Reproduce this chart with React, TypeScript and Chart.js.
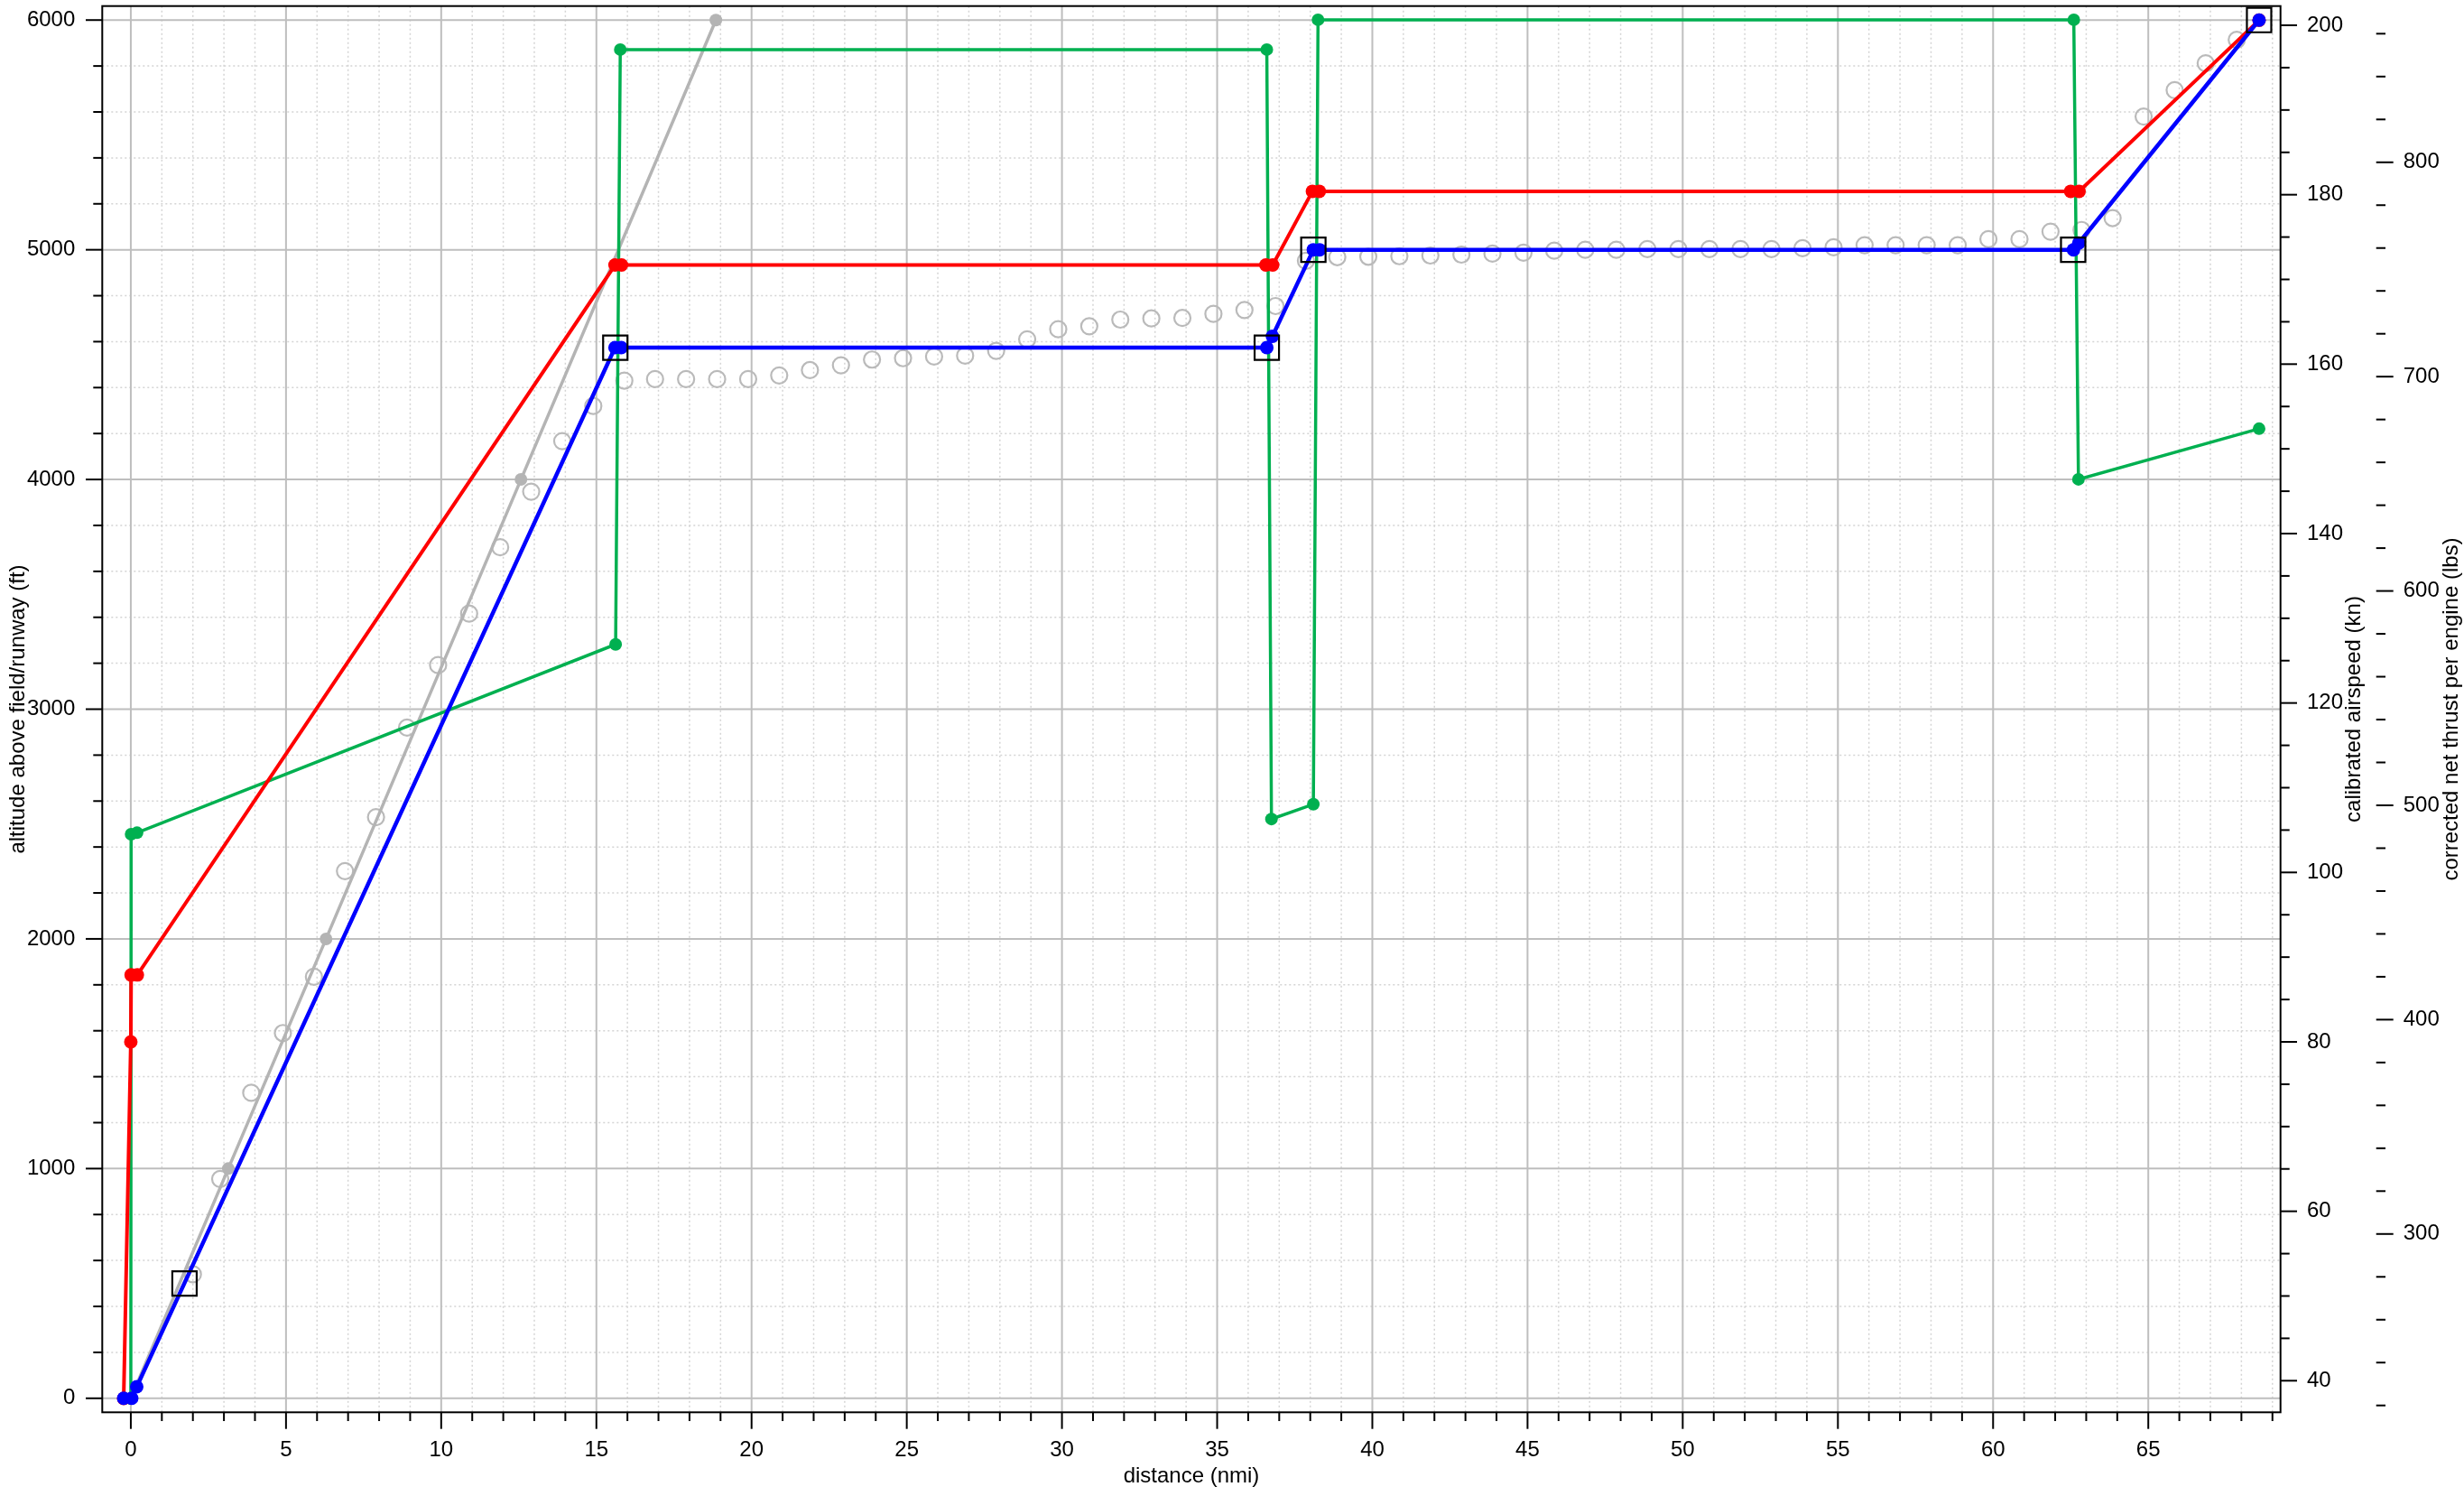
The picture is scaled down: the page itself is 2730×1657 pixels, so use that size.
import React, { useEffect, useRef } from 'react';
import { Chart, registerables } from 'chart.js';

Chart.register(...registerables);

const W = 2730;
const H = 1657;

// ---------- data ----------
// planned altitude profile (ft) – blue
const planDistance = [-0.23, 0.03, 0.19, 15.6, 15.8, 36.6, 36.78, 38.1, 38.3, 62.59, 62.76, 68.57];
const planAltitude = [0, 0, 50, 4574, 4574, 4574, 4623, 5000, 5000, 5000, 5029, 6000];

// calibrated airspeed (kn) – red
const speedDistance = [-0.23, 0.0, 0.01, 0.21, 15.6, 15.81, 36.57, 36.79, 38.07, 38.29, 62.5, 62.77, 68.57];
const speedKnots = [37.9, 80.0, 87.9, 87.9, 171.7, 171.7, 171.7, 171.7, 180.4, 180.4, 180.4, 180.4, 200.6];

// corrected net thrust per engine (lbs) – green
const thrustDistance = [0.0, 0.01, 0.2, 15.62, 15.77, 36.6, 36.75, 38.1, 38.25, 62.6, 62.75, 68.57];
const thrustLbs = [223.2, 486.5, 487.2, 575.1, 852.6, 852.6, 493.6, 500.5, 866.5, 866.5, 652.1, 675.7];

// reference glide line (ft) – grey
const glideDistance = [0, 3.14, 6.29, 12.57, 18.85];
const glideAltitude = [0, 1000, 2000, 4000, 6000];

// altitude constraints (ft) – black squares
const constraintDistance = [1.73, 15.61, 36.6, 38.1, 62.58, 68.57];
const constraintAltitude = [500, 4574, 4574, 5000, 5000, 6000];

// observed track (ft) – open grey circles
const obsDistance = [
  2.0, 2.88, 3.88, 4.9, 5.9, 6.9, 7.9, 8.9, 9.9, 10.9, 11.9, 12.9, 13.9, 14.9, 15.9,
  16.89, 17.89, 18.89, 19.89, 20.89, 21.88, 22.88, 23.88, 24.88, 25.88, 26.88, 27.88, 28.88,
  29.88, 30.88, 31.88, 32.88, 33.88, 34.88, 35.88, 36.88,
  37.86, 38.87, 39.87, 40.87, 41.87, 42.87, 43.87, 44.87, 45.86, 46.86, 47.86, 48.86, 49.86,
  50.86, 51.86, 52.86, 53.86, 54.86, 55.86, 56.86, 57.86, 58.86, 59.85, 60.85, 61.85, 62.85,
  63.85, 64.85, 65.85, 66.85, 67.85,
];
const obsAltitude = [
  540, 955, 1330, 1590, 1835, 2295, 2530, 2920, 3192, 3416, 3705, 3947, 4167, 4320, 4430,
  4437, 4437, 4437, 4437, 4453, 4476, 4497, 4522, 4528, 4535, 4539, 4560, 4610,
  4654, 4667, 4696, 4701, 4703, 4721, 4738, 4755,
  4952, 4968, 4970, 4972, 4975, 4979, 4983, 4987, 4996, 5000, 5000, 5003, 5003,
  5003, 5003, 5003, 5007, 5011, 5020, 5020, 5020, 5020, 5046, 5046, 5079, 5086,
  5138, 5580, 5695, 5812, 5914,
];

// axes
const distanceTicks = [0, 5, 10, 15, 20, 25, 30, 35, 40, 45, 50, 55, 60, 65];
const altitudeTicks = [0, 1000, 2000, 3000, 4000, 5000, 6000];
const airspeedTicks = [40, 60, 80, 100, 120, 140, 160, 180, 200];
const thrustTicks = [300, 400, 500, 600, 700, 800];
const distanceRange = [-0.92, 69.26];
const altitudeRange = [-61, 6061];
const airspeedRange = [36.27, 202.27];
const thrustRange = [216.8, 872.9];

const FONT_FAMILY = "'Liberation Sans', Arial, Helvetica, sans-serif";
const font = { family: FONT_FAMILY, size: 24 };

const pts = (xs: number[], ys: number[]) => xs.map((x, i) => ({ x, y: ys[i] }));

const range = (start: number, end: number, step: number) => {
  const out: number[] = [];
  const s = Math.ceil(start / step - 1e-9) * step;
  for (let v = s; v <= end + 1e-9; v += step) out.push(Math.round(v * 1000) / 1000);
  return out;
};

const decorPlugin = {
  id: 'decor',
  beforeDatasetsDraw(chart: any) {
    const { ctx, chartArea: a, scales } = chart;
    const sx = scales.x;
    const sy = scales.y;
    ctx.save();
    ctx.beginPath();
    ctx.rect(a.left, a.top, a.right - a.left, a.bottom - a.top);
    ctx.clip();
    const vline = (p: number) => { ctx.beginPath(); ctx.moveTo(p, a.top); ctx.lineTo(p, a.bottom); ctx.stroke(); };
    const hline = (p: number) => { ctx.beginPath(); ctx.moveTo(a.left, p); ctx.lineTo(a.right, p); ctx.stroke(); };
    // minor dotted grid
    ctx.strokeStyle = '#d4d4d4';
    ctx.lineWidth = 1.5;
    ctx.setLineDash([2, 3]);
    range(sx.min, sx.max, 1).forEach((v) => { if (v % 5 !== 0) vline(sx.getPixelForValue(v)); });
    range(sy.min, sy.max, 200).forEach((v) => { if (v % 1000 !== 0) hline(sy.getPixelForValue(v)); });
    // major solid grid
    ctx.setLineDash([]);
    ctx.strokeStyle = '#bebebe';
    ctx.lineWidth = 2;
    distanceTicks.forEach((v) => vline(sx.getPixelForValue(v)));
    altitudeTicks.forEach((v) => hline(sy.getPixelForValue(v)));
    ctx.restore();
  },
  afterDraw(chart: any) {
    const { ctx, chartArea: a, scales } = chart;
    const sx = scales.x;
    const sy = scales.y;
    const ss = scales.ySpeed;
    const st = scales.yThrust;
    ctx.save();
    ctx.strokeStyle = '#000';
    ctx.lineWidth = 2;
    ctx.setLineDash([]);
    const seg = (x1: number, y1: number, x2: number, y2: number) => {
      ctx.beginPath(); ctx.moveTo(x1, y1); ctx.lineTo(x2, y2); ctx.stroke();
    };
    range(sx.min, sx.max, 1).forEach((v) => {
      const p = sx.getPixelForValue(v);
      seg(p, a.bottom, p, a.bottom + (v % 5 === 0 ? 18.4 : 9.7));
    });
    range(sy.min, sy.max, 200).forEach((v) => {
      const p = sy.getPixelForValue(v);
      seg(a.left - (v % 1000 === 0 ? 18.3 : 10), p, a.left, p);
    });
    range(ss.min, ss.max, 5).forEach((v) => {
      const p = ss.getPixelForValue(v);
      seg(a.right, p, a.right + (v % 20 === 0 ? 18.3 : 10), p);
    });
    const tx = st.left;
    range(st.min, st.max, 20).forEach((v) => {
      const p = st.getPixelForValue(v);
      seg(tx, p, tx + (v % 100 === 0 ? 19 : 10.3), p);
    });
    ctx.strokeRect(a.left, a.top, a.right - a.left, a.bottom - a.top);
    // right-hand axis titles (reading bottom to top)
    ctx.fillStyle = '#000';
    ctx.font = `24px ${FONT_FAMILY}`;
    ctx.textAlign = 'center';
    ctx.textBaseline = 'middle';
    const cy = (a.top + a.bottom) / 2;
    const vtext = (txt: string, x: number) => {
      ctx.save();
      ctx.translate(x, cy);
      ctx.rotate(-Math.PI / 2);
      ctx.fillText(txt, 0, 0);
      ctx.restore();
    };
    vtext('calibrated airspeed (kn)', 2608);
    vtext('corrected net thrust per engine (lbs)', 2716);
    ctx.restore();
  },
};

const fixedTicks = (values: number[]) => (scale: any) => {
  scale.ticks = values.map((v) => ({ value: v }));
};

const noPad = (size: number, horizontal: boolean) => (scale: any) => {
  if (horizontal) scale.height = size; else scale.width = size;
  scale.paddingTop = 0;
  scale.paddingBottom = 0;
  scale.paddingLeft = 0;
  scale.paddingRight = 0;
};

export default function App() {
  const ref = useRef<HTMLCanvasElement>(null);

  useEffect(() => {
    const canvas = ref.current;
    if (!canvas) return;
    const chart = new Chart(canvas, {
      type: 'scatter',
      data: {
        datasets: [
          {
            label: 'constraints',
            data: pts(constraintDistance, constraintAltitude),
            yAxisID: 'y',
            showLine: false,
            pointStyle: 'rect',
            pointRadius: 19.1,
            pointBorderWidth: 2.2,
            pointBorderColor: '#000',
            pointBackgroundColor: 'rgba(0,0,0,0)',
            order: 0,
          },
          {
            label: 'altitude plan',
            data: pts(planDistance, planAltitude),
            yAxisID: 'y',
            showLine: true,
            borderColor: '#0000ff',
            borderWidth: 4.5,
            pointRadius: 7.5,
            pointBorderWidth: 0,
            pointBackgroundColor: '#0000ff',
            order: 1,
          },
          {
            label: 'airspeed',
            data: pts(speedDistance, speedKnots),
            yAxisID: 'ySpeed',
            showLine: true,
            borderColor: '#ff0000',
            borderWidth: 4,
            pointRadius: 7.5,
            pointBorderWidth: 0,
            pointBackgroundColor: '#ff0000',
            order: 2,
          },
          {
            label: 'thrust',
            data: pts(thrustDistance, thrustLbs),
            yAxisID: 'yThrust',
            showLine: true,
            borderColor: '#00b050',
            borderWidth: 3.5,
            pointRadius: 7,
            pointBorderWidth: 0,
            pointBackgroundColor: '#00b050',
            order: 3,
          },
          {
            label: 'glide',
            data: pts(glideDistance, glideAltitude),
            yAxisID: 'y',
            showLine: true,
            borderColor: '#b4b4b4',
            borderWidth: 3.5,
            pointRadius: 7,
            pointBorderWidth: 0,
            pointBackgroundColor: '#b4b4b4',
            order: 4,
          },
          {
            label: 'observed',
            data: pts(obsDistance, obsAltitude),
            yAxisID: 'y',
            showLine: false,
            pointRadius: 9,
            pointBorderWidth: 2.2,
            pointBorderColor: '#bababa',
            pointBackgroundColor: 'rgba(0,0,0,0)',
            order: 5,
          },
        ],
      },
      options: {
        animation: false,
        responsive: false,
        devicePixelRatio: 1,
        events: [],
        layout: { autoPadding: false, padding: { top: 6.7, left: 0, right: 0, bottom: 0 } },
        plugins: { legend: { display: false }, tooltip: { enabled: false } },
        scales: {
          x: {
            type: 'linear',
            position: 'bottom',
            min: distanceRange[0],
            max: distanceRange[1],
            afterBuildTicks: fixedTicks(distanceTicks),
            afterFit: noPad(92.7, true),
            grid: { display: false, drawTicks: false, tickLength: 0 },
            border: { display: false },
            ticks: { autoSkip: false, maxRotation: 0, padding: 28, color: '#000', font, callback: (v: any) => String(v) },
            title: { display: true, text: 'distance (nmi)', color: '#000', font, padding: { top: 0, bottom: 7.6 } },
          },
          y: {
            type: 'linear',
            position: 'left',
            min: altitudeRange[0],
            max: altitudeRange[1],
            afterBuildTicks: fixedTicks(altitudeTicks),
            afterFit: noPad(113.3, false),
            grid: { display: false, drawTicks: false, tickLength: 0 },
            border: { display: false },
            ticks: { autoSkip: false, padding: 30, color: '#000', font, callback: (v: any) => String(v) },
            title: { display: true, text: 'altitude above field/runway (ft)', color: '#000', font, padding: { top: 5.6, bottom: 0 } },
          },
          ySpeed: {
            type: 'linear',
            position: 'right',
            weight: 0,
            min: airspeedRange[0],
            max: airspeedRange[1],
            afterBuildTicks: fixedTicks(airspeedTicks),
            afterFit: noPad(106, false),
            grid: { display: false, drawTicks: false, tickLength: 0 },
            border: { display: false },
            ticks: { autoSkip: false, padding: 29.3, color: '#000', font, callback: (v: any) => String(v) },
          },
          yThrust: {
            type: 'linear',
            position: 'right',
            weight: 1,
            min: thrustRange[0],
            max: thrustRange[1],
            afterBuildTicks: fixedTicks(thrustTicks),
            afterFit: noPad(97.3, false),
            grid: { display: false, drawTicks: false, tickLength: 0 },
            border: { display: false },
            ticks: { autoSkip: false, padding: 30, color: '#000', font, callback: (v: any) => String(v) },
          },
        },
      } as any,
      plugins: [decorPlugin],
    } as any);
    return () => chart.destroy();
  }, []);

  return (
    <div style={{ position: 'absolute', left: 0, top: 0, width: W, height: H, background: '#fff' }}>
      <canvas ref={ref} width={W} height={H} style={{ display: 'block', width: W, height: H }} />
    </div>
  );
}
